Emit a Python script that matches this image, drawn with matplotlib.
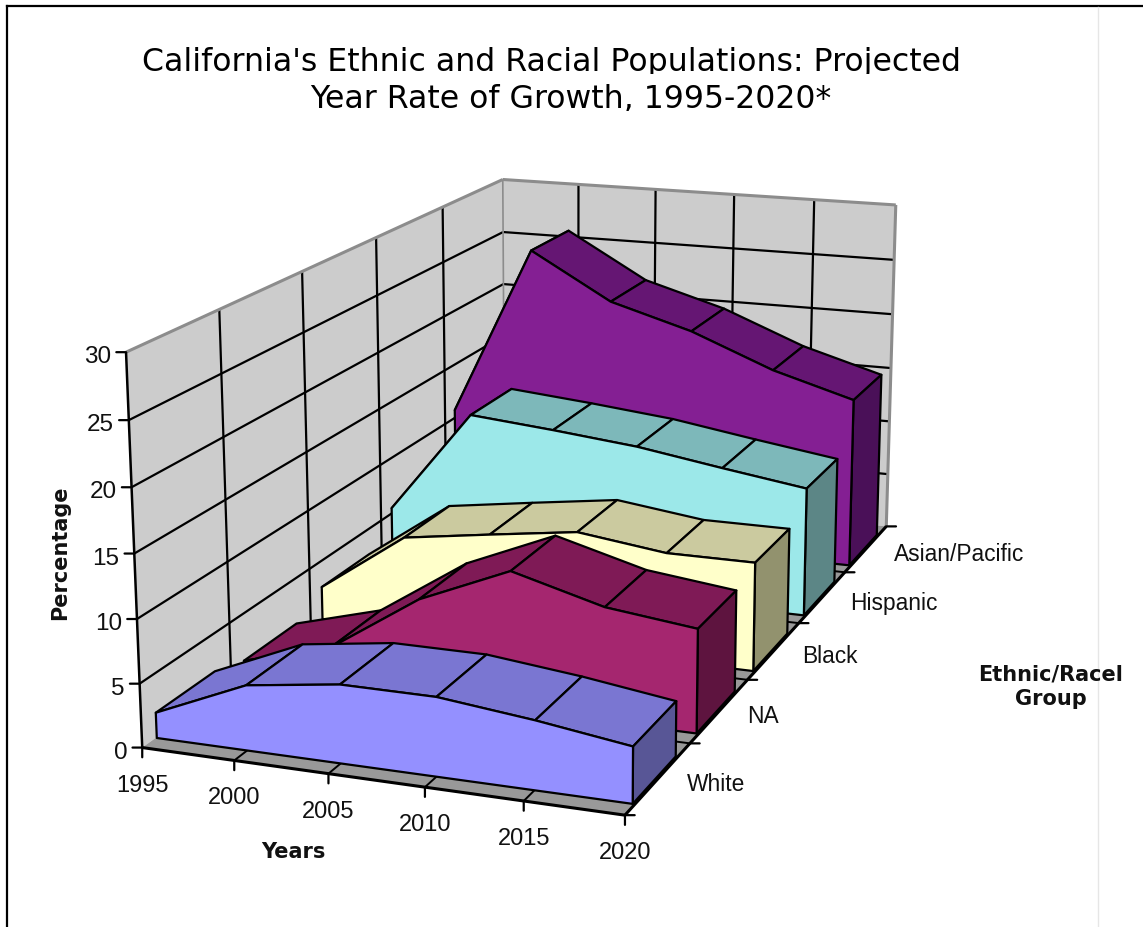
import matplotlib
matplotlib.use("Agg")
import matplotlib.pyplot as plt
from matplotlib.lines import Line2D
from matplotlib.transforms import Bbox
from mpl_toolkits.mplot3d import proj3d
from mpl_toolkits.mplot3d.art3d import Poly3DCollection

W, H = 1143, 928
plt.rcParams['font.family'] = ['Liberation Sans', 'DejaVu Sans']

years = [1995, 2000, 2005, 2010, 2015, 2020]
groups = ['White', 'NA', 'Black', 'Hispanic', 'Asian/Pacific']
pct_ticks = [0, 5, 10, 15, 20, 25, 30]
white = [2.0, 5.1, 6.1, 6.1, 5.3, 4.3]
na = [1.2, 3.2, 8.0, 11.1, 9.1, 8.25]
black = [2.8, 7.9, 8.95, 9.95, 9.0, 9.0]
hispanic = [5.55, 14.65, 14.0, 13.25, 12.1, 11.05]
asian = [10.8, 26.2, 22.1, 20.0, 17.1, 15.05]
series = [white, na, black, hispanic, asian]
front_colors = ['#9490FF', '#A5266F', '#FFFFCA', '#9CE8E9', '#841F93']
top_colors = ['#7A76D2', '#7F1A56', '#CBCA9F', '#7DB8BA', '#651673']
side_colors = ['#585696', '#5E143F', '#92926E', '#5C8686', '#4A1058']

fig = plt.figure(figsize=(W / 100, H / 100), dpi=100, facecolor='white')
# camera fitted to the corners of the plot box
size, cx, cy = 1047.5, 540.7, 462.4
ax = fig.add_axes([(cx - size / 2) / W, (cy - size / 2) / H, size / W, size / H],
                  projection='3d', computed_zorder=False)
ax.set_axis_off()
ax.patch.set_visible(False)
ax.set_xlim(1995, 2020, view_margin=0)
ax.set_ylim(0, 5, view_margin=0)
ax.set_zlim(0, 30, view_margin=0)
ax.set_autoscale_on(False)
ax.view_init(15.396, -69.624, 0.085)
ax.set_proj_type('persp', focal_length=0.523)
ax.set_box_aspect((1, 1.955, 0.796))

z = [0]


def poly(verts, fc, ec='black', lw=1.6):
    z[0] += 1
    c = Poly3DCollection([verts], facecolors=fc, edgecolors=ec, linewidths=lw, zorder=z[0])
    ax.add_collection3d(c, autolim=False)


def line(a, b, color='black', lw=1.6):
    z[0] += 1
    ax.plot([a[0], b[0]], [a[1], b[1]], [a[2], b[2]], color=color, lw=lw, zorder=z[0],
            solid_capstyle='butt')


def label(x, y, zv, txt, dx, dy, **kw):
    px, py, _ = proj3d.proj_transform(x, y, zv, ax.get_proj())
    ax.annotate(txt, (px, py), xytext=(dx * 0.72, dy * 0.72), textcoords='offset points',
                annotation_clip=False, zorder=500, color='#111111', **kw)


def tick(x, y, zv, dx, dy):
    px, py, _ = proj3d.proj_transform(x, y, zv, ax.get_proj())
    ax.annotate('', (px, py), xytext=(dx, dy), textcoords='offset points', annotation_clip=False,
                zorder=400, arrowprops=dict(arrowstyle='-', lw=1.6, color='black', shrinkA=0, shrinkB=0))


x0, x1 = years[0], years[-1]
ny = len(groups)
poly([(x0, 0, 0), (x0, ny, 0), (x0, ny, 30), (x0, 0, 30)], '#CCCCCC', 'none', 0)
poly([(x0, ny, 0), (x1, ny, 0), (x1, ny, 30), (x0, ny, 30)], '#CCCCCC', 'none', 0)
poly([(x0, 0, 0), (x1, 0, 0), (x1, ny, 0), (x0, ny, 0)], '#999999', 'none', 0)
for v in pct_ticks[1:-1]:
    line((x0, 0, v), (x0, ny, v))
    line((x0, ny, v), (x1, ny, v))
for i in range(1, ny):
    line((x0, i, 0), (x0, i, 30))
    line((x0, i, 0), (x1, i, 0), lw=1.4)
for yr in years[1:-1]:
    line((yr, ny, 0), (yr, ny, 30))
    line((yr, 0, 0), (yr, ny, 0), lw=1.4)
line((x0, 0, 30), (x0, ny, 30), '#8C8C8C', 2.2)
line((x0, ny, 30), (x1, ny, 30), '#8C8C8C', 2.2)
line((x1, ny, 30), (x1, ny, 0), '#8C8C8C', 2.2)
line((x0, ny, 30), (x0, ny, 0), '#8C8C8C', 1.2)

# ribbons, back to front
y_front, y_back = 0.15, 0.81
x_end = x1 - 0.15
ends = years[:-1] + [x_end]
for k in range(ny - 1, -1, -1):
    vals = series[k]
    yf, yb = k + y_front, k + y_back
    for i in range(len(years) - 1):
        poly([(ends[i], yf, vals[i]), (ends[i + 1], yf, vals[i + 1]),
              (ends[i + 1], yb, vals[i + 1]), (ends[i], yb, vals[i])], top_colors[k])
    poly([(x_end, yf, 0), (x_end, yb, 0), (x_end, yb, vals[-1]), (x_end, yf, vals[-1])], side_colors[k])
    top = [(yr, yf, v) for yr, v in zip(ends, vals)]
    poly([(x0, yf, 0)] + top + [(x_end, yf, 0)], front_colors[k])

# axis lines, ticks and labels on top of everything
z[0] = 300
line((x0, 0, 0), (x0, 0, 30), lw=1.8)
line((x0, 0, 0), (x1, 0, 0), lw=2.2)
line((x1, 0, 0), (x1, ny, 0), lw=2.2)
for v in pct_ticks:
    label(x0, 0, v, str(v), -15, -4, fontsize=17.5, ha='right', va='center')
    tick(x0, 0, v, -7, 0)
for yr in years:
    label(yr, 0, 0, str(yr), 0, -37, fontsize=17, ha='center', va='center')
    tick(yr, 0, 0, 0, -7)
for i, g in enumerate(groups):
    label(x1, i + 0.5, 0, g, 28, -5, fontsize=16.4, ha='left', va='center')
for i in range(ny + 1):
    tick(x1, i, 0, 7, 0)

t1 = fig.text(552 / W, 1 - 62 / H, "California's Ethnic and Racial Populations: Projected",
              fontsize=22.7, family='DejaVu Sans', ha='center', va='center', color='black')
t1.set_clip_box(Bbox([[0, H - 75], [W, H]]))
t1.set_clip_on(True)
t2 = fig.text(571 / W, 1 - 99 / H, "Year Rate of Growth, 1995-2020*",
              fontsize=22.7, family='DejaVu Sans', ha='center', va='center', color='black')
t2.set_clip_box(Bbox([[0, H - 112], [W, H]]))
t2.set_clip_on(True)
fig.text(60 / W, 1 - 553 / H, 'Percentage', rotation=90, fontsize=15, fontweight='bold',
         family='DejaVu Sans', ha='center', va='center', color='#111111')
fig.text(293 / W, 1 - 852 / H, 'Years', fontsize=15, fontweight='bold', family='DejaVu Sans',
         ha='center', va='center', color='#111111')
fig.text(1051 / W, 1 - 687 / H, 'Ethnic/Racel\nGroup', fontsize=15, fontweight='bold',
         family='DejaVu Sans', ha='center', va='center', color='#111111', linespacing=1.25)

# page frame
fig.add_artist(Line2D([7 / W, 7 / W], [0, 1 - 7 / H], color='black', lw=1.6))
fig.add_artist(Line2D([7 / W, 1], [1 - 7 / H, 1 - 7 / H], color='black', lw=1.6))
fig.add_artist(Line2D([1098 / W, 1098 / W], [0, 1 - 8 / H], color='#E6E6E6', lw=1))

fig.savefig('out.png', dpi=100)
